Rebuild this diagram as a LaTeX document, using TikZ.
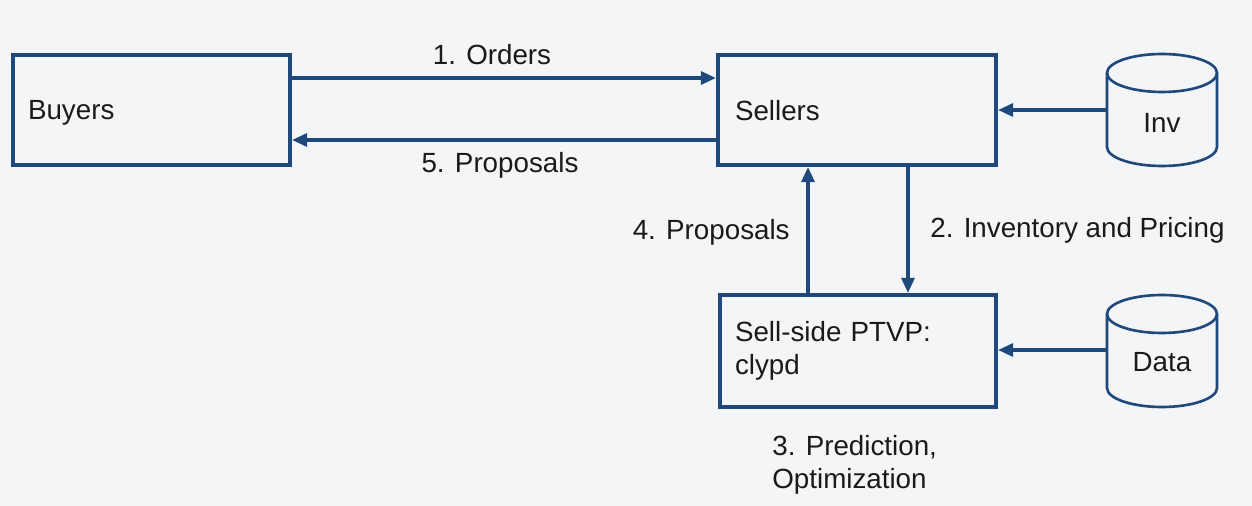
\documentclass[tikz,border=0pt]{standalone}
\usepackage{fontspec}
\setmainfont{Liberation Sans}
\usetikzlibrary{arrows.meta,calc}
\definecolor{flow}{HTML}{1F497D}
\definecolor{paper}{HTML}{F4F5F7}
\definecolor{ink}{HTML}{1A1A1A}
\begin{document}
\begin{tikzpicture}[x=0.02cm,y=0.02cm,
  every node/.style={font=\fontsize{15.8}{19}\selectfont, text=ink},
  box/.style={draw=flow, line width=2.4pt, rectangle, align=left, inner ysep=0pt},
  arr/.style={draw=flow, line width=1.8pt, -{Triangle[length=0.3cm,width=0.26cm]}},
  dbline/.style={draw=flow, line width=1.5pt},
  lbl/.style={inner sep=0pt}]
% canvas
\fill[paper] (0,0) rectangle (1252,-506);
\useasboundingbox (0,0) rectangle (1252,-506);

% main boxes
\node[box, minimum width=5.54cm, minimum height=2.2cm, inner xsep=0.3cm, text width=4.94cm, text depth=0pt]
  (buyers) at (151.5,-110) {Buyers};
\node[box, minimum width=5.56cm, minimum height=2.2cm, inner xsep=0.34cm, text width=4.88cm, text depth=0pt]
  (sellers) at (857,-110) {Sellers};
\node[box, minimum width=5.52cm, minimum height=2.24cm, inner xsep=0.3cm, text width=4.92cm]
  (sellside) at (858,-351) {Sell-side PTVP:\\clypd};

% data stores
\draw[dbline] (1107,-73) -- (1107,-147) arc[start angle=180, end angle=360, x radius=55, y radius=19] -- (1217,-73);
\draw[dbline] (1162,-73) ellipse [x radius=55, y radius=19];
\node[lbl] (inv) at (1162,-123) {Inv};
\coordinate (invside) at (1107,-110);

\draw[dbline] (1107,-314) -- (1107,-388) arc[start angle=180, end angle=360, x radius=55, y radius=19] -- (1217,-314);
\draw[dbline] (1162,-314) ellipse [x radius=55, y radius=19];
\node[lbl] (data) at (1162,-362) {Data};
\coordinate (dataside) at (1107,-350);

% flows
\draw[arr] ([yshift=0.64cm]buyers.east) -- ([yshift=0.64cm]sellers.west);
\draw[arr] ([yshift=-0.6cm]sellers.west) -- ([yshift=-0.6cm]buyers.east);
\draw[arr] (invside) -- (sellers.east |- invside);
\draw[arr] (dataside) -- (sellside.east |- dataside);
\draw[arr] ([xshift=-1cm]sellside.north) -- ([xshift=-1cm]sellside.north |- sellers.south);
\draw[arr] ([xshift=1cm]sellside.north |- sellers.south) -- ([xshift=1cm]sellside.north);

% flow labels
\node[lbl, anchor=base] (l1) at (492,-65) {1. Orders};
\node[lbl, anchor=base] (l5) at (500,-173) {5. Proposals};
\node[lbl, anchor=base east] (l4) at (790,-240) {4. Proposals};
\node[lbl, anchor=base west] (l2) at (930,-238) {2. Inventory and Pricing};
\node[lbl, anchor=north west, align=left, font=\fontsize{15.8}{18.8}\selectfont] (l3) at (772,-435)
  {3. Prediction,\\Optimization};
\end{tikzpicture}
\end{document}
